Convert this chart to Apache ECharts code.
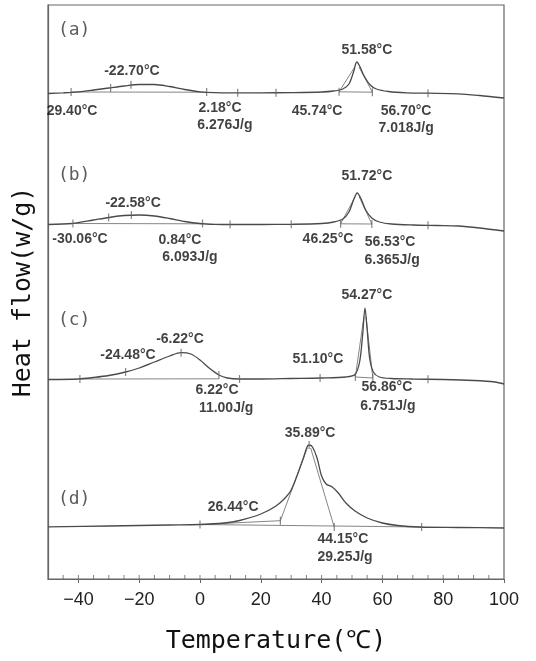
<!DOCTYPE html>
<html>
<head>
<meta charset="utf-8">
<script src="https://cdn.jsdelivr.net/npm/echarts@6/dist/echarts.min.js"></script>
<style>html,body{margin:0;padding:0;background:#fff}#chart{width:536px;height:661px}</style>
</head>
<body>
<div id="chart"></div>
<script>
// ---- DSC curves: temperature (°C) and heat flow (arbitrary offset units) ----
const tempA = [-50,-45,-40,-35,-30,-25,-20,-15,-10,-5,0,5,10,20,30,40,44,47,49,50.5,51.58,52.5,54,56,58,62,68,75,85,92,100];
const flowA = [48.55,48.62,48.72,48.90,49.10,49.30,49.45,49.45,49.25,48.95,48.72,48.64,48.62,48.62,48.64,48.70,48.80,49.00,49.50,50.70,51.70,51.30,50.30,49.40,49.00,48.75,48.62,48.58,48.52,48.35,48.10];

const tempB = [-50,-42,-35,-30,-25,-20,-15,-10,-5,0,5,10,20,30,40,44,47,49,50.5,51.72,53,54.5,56.5,59,63,70,78,85,92,100];
const flowB = [35.45,35.55,35.90,36.15,36.35,36.40,36.30,36.05,35.75,35.55,35.47,35.45,35.45,35.47,35.55,35.70,36.00,36.70,37.90,38.60,38.00,36.90,36.10,35.70,35.50,35.40,35.35,35.30,35.10,34.80];

const tempC = [-50,-40,-35,-30,-24.5,-20,-15,-10,-6.22,-3,0,3,6.22,9,13,20,30,40,48,51,52.5,53.5,54.27,55,55.8,57,59,63,70,80,90,97,100];
const flowC = [19.95,20.00,20.15,20.35,20.70,21.10,21.70,22.30,22.63,22.50,21.90,21.10,20.40,20.10,20.00,20.00,20.05,20.10,20.20,20.45,21.70,24.40,27.10,24.90,22.10,20.70,20.20,20.05,20.00,19.95,19.85,19.70,19.50];

const tempD = [-50,-30,-10,0,8,13,20,25,28,30,32,34,35.2,35.89,37,38.5,40,41.5,43.5,45.5,48,51,55,60,65,72,85,100];
const flowD = [5.22,5.30,5.40,5.45,5.60,5.85,6.50,7.30,8.10,8.90,10.40,12.10,13.20,13.40,13.20,12.10,10.30,9.50,9.20,8.60,7.60,6.80,6.10,5.60,5.35,5.20,5.15,5.10];

// construction (tangent / baseline) segments: [T1, v1, T2, v2]
const constructionLines = [
  [-42.4,48.70, 2.2,48.68], [45.74,48.72, 56.7,48.68], [45.74,48.72, 50.9,51.2], [52.3,51.2, 56.7,48.68],
  [-41.8,35.55, 0.84,35.52], [46.25,35.52, 56.53,35.50], [46.25,35.52, 51.0,38.2], [52.4,38.2, 56.53,35.50],
  [-39.5,20.00, 6.22,20.02], [51.10,20.20, 56.86,20.10], [51.10,20.20, 53.9,26.2], [54.6,26.2, 56.86,20.10],
  [0,5.45, 26.44,5.83], [26.44,5.83, 35.3,13.1], [36.4,13.1, 44.15,5.20], [0,5.45, 72.9,5.20]
];

// small vertical marks on the curves: [T, v]
const curveMarks = [
  [-42.4,48.70],[-29.4,49.10],[-22.7,49.42],[2.18,48.70],[12.4,48.62],[25,48.63],[45.74,48.72],[56.7,48.68],[75,48.58],
  [-41.8,35.55],[-30.06,36.15],[-22.58,36.40],[0.84,35.55],[9.9,35.45],[30,35.47],[46.25,35.52],[56.53,35.50],[75,35.37],
  [-39.5,20.00],[-24.48,20.70],[-6.22,22.63],[6.22,20.40],[13,20.00],[39.5,20.10],[51.10,20.20],[56.86,20.10],[75,19.97],
  [0,5.45],[26.44,5.83],[35.89,13.40],[44.15,5.20],[72.9,5.20]
];

// annotations: [T, v, text]
const panelLabels = [[-41.4,54.9,'(a)'],[-41.4,40.4,'(b)'],[-41.4,25.9,'(c)'],[-41.4,8.0,'(d)']];
const peakLabels = [
  [-22.4,50.8,'-22.70°C'],[-42.1,46.8,'29.40°C'],[6.6,47.1,'2.18°C'],[8.2,45.4,'6.276J/g'],
  [38.5,46.8,'45.74°C'],[54.9,52.9,'51.58°C'],[67.8,46.8,'56.70°C'],[67.8,45.1,'7.018J/g'],
  [54.9,40.3,'51.72°C'],[-22.0,37.6,'-22.58°C'],[-39.5,34.0,'-30.06°C'],[-6.6,33.9,'0.84°C'],[-3.3,32.2,'6.093J/g'],
  [42.1,34.0,'46.25°C'],[62.5,33.7,'56.53°C'],[63.2,31.9,'6.365J/g'],
  [54.9,28.4,'54.27°C'],[-6.6,24.0,'-6.22°C'],[-23.7,22.4,'-24.48°C'],[38.8,22.0,'51.10°C'],
  [5.6,18.9,'6.22°C'],[8.6,17.1,'11.00J/g'],[61.5,19.2,'56.86°C'],[61.8,17.3,'6.751J/g'],
  [36.2,14.6,'35.89°C'],[10.9,7.2,'26.44°C'],[47.0,4.0,'44.15°C'],[47.7,2.2,'29.25J/g']
];

const xMajorTicks = [-40,-20,0,20,40,60,80,100];
const xMinorTicks = [-45,-40,-35,-30,-25,-20,-15,-10,-5,0,5,10,15,20,25,30,35,40,45,50,55,60,65,70,75,80,85,90,95];

function pairs(t, f) { return t.map((x, i) => [x, f[i]]); }

const curveStyle = { color: '#4a4a4a', width: 1.3 };
function curve(t, f) {
  return { type: 'line', data: pairs(t, f), showSymbol: false, smooth: 0.3,
           lineStyle: curveStyle, silent: true, z: 3 };
}

const series = [curve(tempA, flowA), curve(tempB, flowB), curve(tempC, flowC), curve(tempD, flowD)];

constructionLines.forEach(s => {
  series.push({ type: 'line', data: [[s[0], s[1]], [s[2], s[3]]], showSymbol: false,
                lineStyle: { color: '#777', width: 0.9 }, silent: true, z: 2 });
});

series.push({ type: 'scatter', data: curveMarks, symbol: 'rect', symbolSize: [1.2, 8],
              itemStyle: { color: '#666' }, silent: true, z: 4 });

// minor ticks along the bottom axis (inside)
series.push({ type: 'scatter', data: xMinorTicks.map(t => [t, 0]), symbol: 'rect', symbolSize: [1, 4],
              symbolOffset: [0, -2], itemStyle: { color: '#666' }, silent: true, z: 4, clip: false });

series.push({ type: 'scatter', data: panelLabels.map(d => ({ value: [d[0], d[1]], name: d[2] })),
              symbolSize: 1, itemStyle: { color: 'rgba(0,0,0,0)' }, silent: true, z: 5,
              label: { show: true, position: 'inside', formatter: p => p.name, color: '#333',
                       fontFamily: 'DejaVu Sans Mono', fontSize: 18 } });

series.push({ type: 'scatter', data: peakLabels.map(d => ({ value: [d[0], d[1]], name: d[2] })),
              symbolSize: 1, itemStyle: { color: 'rgba(0,0,0,0)' }, silent: true, z: 5,
              label: { show: true, position: 'inside', formatter: p => p.name, color: '#111',
                       fontFamily: 'Liberation Sans', fontWeight: 'bold', fontSize: 14 } });

const chart = echarts.init(document.getElementById('chart'), null, { renderer: 'canvas' });
chart.setOption({
  animation: false,
  backgroundColor: '#fff',
  grid: { left: 48, right: 32, top: 5, bottom: 82, show: true, borderColor: '#666', borderWidth: 1.2 },
  xAxis: { type: 'value', min: -50, max: 100, interval: 10,
      axisLine: { show: true, onZero: false, lineStyle: { color: '#666', width: 1.2 } },
      axisTick: { show: true, inside: false, length: 4, customValues: xMajorTicks, lineStyle: { color: '#666' } },
      axisLabel: { show: true, margin: 12, color: '#222', fontFamily: 'Liberation Sans', fontSize: 18,
                   formatter: v => (v % 20 === 0 && v > -50) ? String(v).replace('-', '\u2212') : '' },
      splitLine: { show: false },
      name: 'Temperature(\u2103)', nameLocation: 'middle', nameGap: 50,
      nameTextStyle: { fontFamily: 'DejaVu Sans Mono', fontSize: 25, color: '#111' } },
  yAxis: { type: 'value', min: 0, max: 57.4,
    axisLine: { show: true, onZero: false, lineStyle: { color: '#666', width: 1.2 } },
    axisTick: { show: false }, axisLabel: { show: false }, splitLine: { show: false },
    name: 'Heat flow(w/g)', nameLocation: 'middle', nameGap: 12, nameRotate: 90,
    nameTextStyle: { fontFamily: 'DejaVu Sans Mono', fontSize: 25, color: '#111' } },
  series: series
});
</script>
</body>
</html>
